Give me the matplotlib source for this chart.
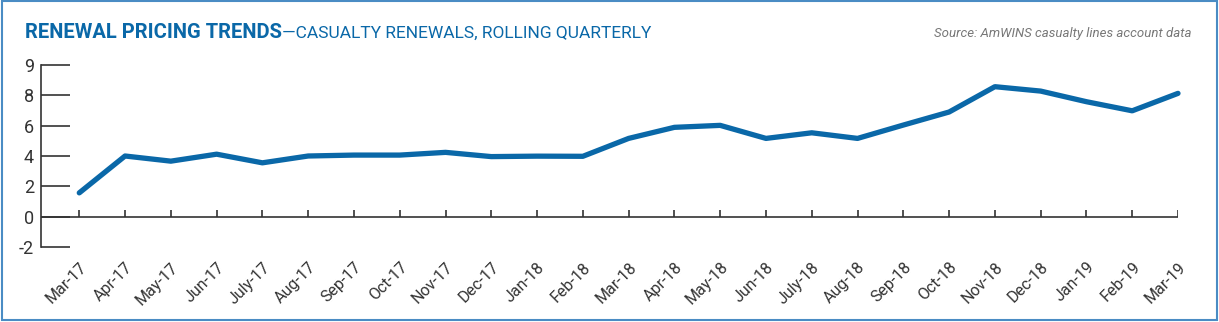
import matplotlib
matplotlib.use('Agg')
import matplotlib.pyplot as plt
from matplotlib.patches import Rectangle

# renewal pricing, rolling quarterly (%)
months = ['Mar-17', 'Apr-17', 'May-17', 'Jun-17', 'July-17', 'Aug-17', 'Sep-17', 'Oct-17',
          'Nov-17', 'Dec-17', 'Jan-18', 'Feb-18', 'Mar-18', 'Apr-18', 'May-18', 'Jun-18',
          'July-18', 'Aug-18', 'Sep-18', 'Oct-18', 'Nov-18', 'Dec-18', 'Jan-19', 'Feb-19', 'Mar-19']
values = [1.57, 4.0, 3.66, 4.12, 3.55, 4.0, 4.06, 4.06,
          4.24, 3.96, 3.99, 3.98, 5.16, 5.89, 6.02, 5.16,
          5.53, 5.16, 6.04, 6.9, 8.57, 8.28, 7.58, 6.98, 8.13]
ytick_vals = [-2, 0, 2, 4, 6, 8, 10]
ytick_labels = ['-2', '0', '2', '4', '6', '8', '9']

blue = '#0a68a8'
grey = '#333333'
plt.rcParams['font.family'] = ['Roboto', 'DejaVu Sans']

fig = plt.figure(figsize=(12.19, 3.22), dpi=100)
ax = fig.add_axes([41 / 1219, 1 - 247 / 322, (1178 - 41) / 1219, (247 - 65) / 322])

x = list(range(len(months)))
ax.plot(x, values, color=blue, lw=3.8, solid_capstyle='round', solid_joinstyle='round',
        clip_on=False, zorder=3)

# zero line with small upward month ticks
ax.axhline(0, color=grey, lw=1.2, zorder=2)
ax.vlines(x, 0, 0.45, color=grey, lw=1.2, zorder=2)

ax.set_xlim(-0.836, len(months) - 1)
ax.set_ylim(-2, 10)
ax.set_yticks(ytick_vals)
ax.set_yticklabels(ytick_labels)
ax.set_xticks(x)
ax.set_xticklabels(months, rotation=45, ha='right', va='top', rotation_mode='anchor')
ax.tick_params(axis='x', length=0, pad=9, labelsize=11.5, colors=grey)
ax.tick_params(axis='y', direction='in', length=21, width=1.2, pad=5,
               labelsize=13, colors=grey)
for s in ['top', 'right', 'bottom']:
    ax.spines[s].set_visible(False)
ax.spines['left'].set_color(grey)
ax.spines['left'].set_linewidth(1.2)

# title and source
t1 = fig.text(25 / 1219, 1 - 33 / 322, 'RENEWAL PRICING TRENDS', color=blue, fontsize=14.5,
              fontweight='bold', va='center', ha='left')
ax.annotate('\u2014CASUALTY RENEWALS, ROLLING QUARTERLY', xy=(1, 0.5), xycoords=t1,
            color=blue, fontsize=12.5, va='center', ha='left', annotation_clip=False)
fig.text(1192 / 1219, 1 - 34 / 322, 'Source: AmWINS casualty lines account data',
         color='#777777', fontsize=9.5, style='italic', va='center', ha='right')

# thin blue frame around the figure
fig.patches.append(Rectangle((0.002, 0.006), 0.996, 0.992, transform=fig.transFigure,
                             fill=False, edgecolor='#4a8cc4', lw=1.5))

fig.savefig('out.png', dpi=100, facecolor='white')
